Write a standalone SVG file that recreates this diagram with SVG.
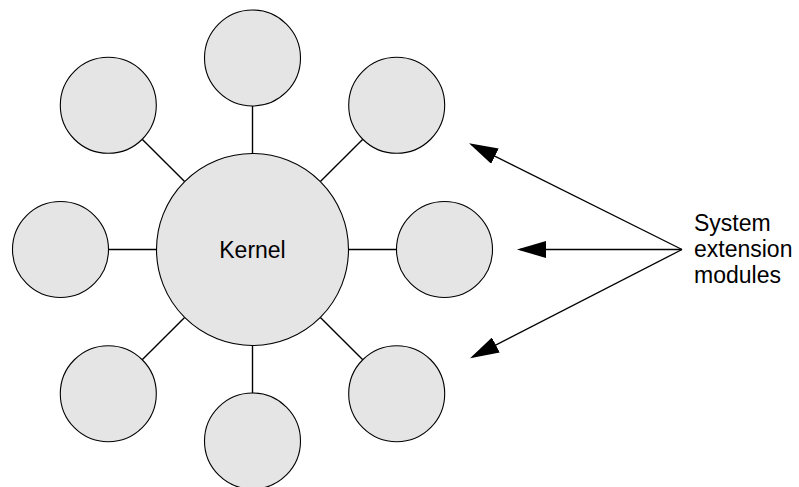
<svg xmlns="http://www.w3.org/2000/svg" width="799" height="487" viewBox="0 0 799 487">
<style>
.node circle{fill:#e5e5e5;stroke:#000;stroke-width:1.1}
.conn line{stroke:#000;stroke-width:1.4}
.arr line{stroke:#000;stroke-width:1.3}
text{font-family:"Liberation Sans",Arial,sans-serif;font-size:23px;fill:#000}
</style>
<defs>
<marker id="ah" viewBox="0 0 29 17" refX="26" refY="8.5" markerWidth="29" markerHeight="17" markerUnits="userSpaceOnUse" orient="auto">
<path d="M0,0 L29,8.5 L0,17 Z" fill="#000"/>
</marker>
</defs>
<g id="connectors" class="conn">
<line x1="252.5" y1="106" x2="252.5" y2="153.5"/>
<line x1="252.5" y1="345.5" x2="252.5" y2="393"/>
<line x1="108.5" y1="249.5" x2="156.5" y2="249.5"/>
<line x1="348.5" y1="249.5" x2="396.5" y2="249.5"/>
<line x1="142.2" y1="139.2" x2="184.6" y2="181.6"/>
<line x1="362.8" y1="139.2" x2="320.4" y2="181.6"/>
<line x1="142.2" y1="359.8" x2="184.6" y2="317.4"/>
<line x1="362.8" y1="359.8" x2="320.4" y2="317.4"/>
</g>
<g id="kernel" class="node">
<circle cx="252.5" cy="249.5" r="96"/>
<text x="252.5" y="257.5" text-anchor="middle">Kernel</text>
</g>
<g id="mod-top" class="node"><circle cx="252.5" cy="58" r="48"/></g>
<g id="mod-top-right" class="node"><circle cx="396.7" cy="105.3" r="48"/></g>
<g id="mod-right" class="node"><circle cx="444.5" cy="249.5" r="48"/></g>
<g id="mod-bottom-right" class="node"><circle cx="396.7" cy="393.7" r="48"/></g>
<g id="mod-bottom" class="node"><circle cx="252.5" cy="441" r="48"/></g>
<g id="mod-bottom-left" class="node"><circle cx="108.3" cy="393.7" r="48"/></g>
<g id="mod-left" class="node"><circle cx="60.5" cy="249.5" r="48"/></g>
<g id="mod-top-left" class="node"><circle cx="108.3" cy="105.3" r="48"/></g>
<g id="arrows" class="arr">
<line x1="682" y1="249.5" x2="471.7" y2="144.6" marker-end="url(#ah)"/>
<line x1="682" y1="249.5" x2="520" y2="249.5" marker-end="url(#ah)"/>
<line x1="682" y1="249.5" x2="472.7" y2="356.9" marker-end="url(#ah)"/>
</g>
<g id="label">
<text x="694" y="231">System</text>
<text x="694" y="257">extension</text>
<text x="694" y="283">modules</text>
</g>
</svg>
